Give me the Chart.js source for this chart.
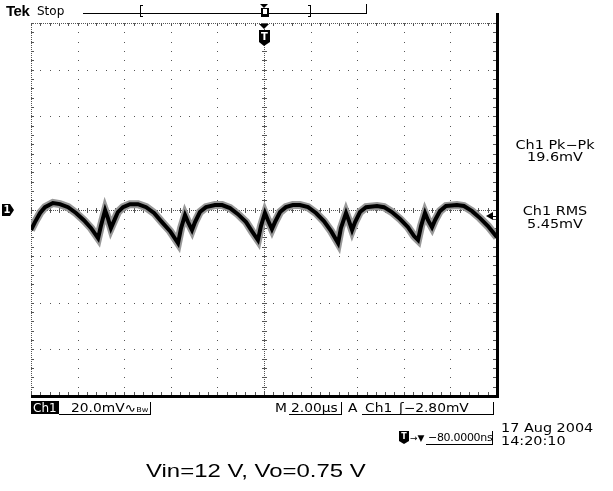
<!DOCTYPE html>
<html>
<head>
<meta charset="utf-8">
<script src="https://cdn.jsdelivr.net/npm/chart.js@4"></script>
<style>
  body { margin: 0; background: #fff; }
  #wrap { position: relative; width: 613px; height: 491px; overflow: hidden; }
  #scope { position: absolute; left: 0; top: 0; }
  .t { position: absolute; font-family: "DejaVu Sans"; font-size: 12px; line-height: 12px; color: #000;
       white-space: nowrap; transform-origin: 0 0; transform: scaleX(1.15); }
  .r { left: 495px; width: 120px; text-align: center; transform-origin: 50% 0; transform: scaleX(1.2); }
  .inv { background: #000; color: #fff; padding: 1px 2px 0 2px; transform: none; }
  .cap { position: absolute; font-family: "Liberation Sans"; font-size: 18px; line-height: 18px;
         white-space: nowrap; transform-origin: 0 0; transform: scaleX(1.33); }
</style>
</head>
<body>
<div id="wrap">
  <canvas id="scope" width="613" height="491"></canvas>

  <div class="t" style="left:6px;top:3px;font-family:'Liberation Sans';font-weight:bold;font-size:15px;line-height:15px;letter-spacing:-0.5px;transform:none">Tek</div>
  <div class="t" style="left:37px;top:5px;transform:none">Stop</div>

  <div class="t r" style="top:139px">Ch1 Pk−Pk</div>
  <div class="t r" style="top:151px">19.6mV</div>
  <div class="t r" style="top:205px">Ch1 RMS</div>
  <div class="t r" style="top:218px">5.45mV</div>

  <div class="t inv" style="left:31px;top:401px">Ch1</div>
  <div class="t" style="left:71px;top:402px">20.0mV∿<span style="font-size:7px">Bw</span></div>
  <div class="t" style="left:275px;top:402px">M</div>
  <div class="t" style="left:291px;top:402px">2.00µs</div>
  <div class="t" style="left:348px;top:402px">A</div>
  <div class="t" style="left:365px;top:402px">Ch1</div>
  <div class="t" style="left:399px;top:402px">ʃ−2.80mV</div>

  <div class="t" style="left:410px;top:432px;font-size:9px;transform:none">→▼</div>
  <div class="t" style="left:428px;top:432px;font-size:11px;letter-spacing:-0.3px;transform:none">−80.0000ns</div>
  <div class="t" style="left:501px;top:422px;transform:scaleX(1.2)">17 Aug 2004</div>
  <div class="t" style="left:501px;top:435px;transform:scaleX(1.2)">14:20:10</div>

  <div class="cap" style="left:146px;top:462px">Vin=12 V, Vo=0.75 V</div>
</div>

<script>
// Ch1 trace (time in µs from trigger, volts in mV)
const timeUs = [-10.00, -9.83, -9.61, -9.40, -9.06, -8.76, -8.41, -8.07, -7.73, -7.42, -7.12,
  -7.00, -6.82, -6.70, -6.57, -6.44, -6.27, -6.05, -5.75, -5.41, -5.06, -4.72, -4.38, -4.03, -3.69,
  -3.56, -3.39, -3.26, -3.09, -2.96, -2.75, -2.49, -2.10, -1.80, -1.46, -1.12, -0.77, -0.52, -0.26,
  -0.13, 0.04, 0.17, 0.34, 0.47, 0.69, 0.94, 1.24, 1.54, 1.89, 2.23, 2.57, 2.88, 3.18,
  3.30, 3.52, 3.65, 3.78, 3.91, 4.12, 4.38, 4.85, 5.15, 5.49, 5.84, 6.18, 6.44, 6.61,
  6.74, 6.91, 7.04, 7.21, 7.34, 7.55, 7.81, 8.28, 8.58, 8.93, 9.27, 9.61, 10.00];

const ch1mV = [-8.8, -5.4, -1.5, 1.0, 2.8, 2.3, 1.0, -1.5, -4.6, -8.0, -12.3,
  -7.1, -0.3, -3.7, -8.0, -5.0, -1.1, 1.0, 2.3, 2.3, 1.0, -1.5, -5.4, -9.3, -14.4,
  -8.0, -2.4, -5.4, -8.8, -5.4, -1.1, 1.0, 1.9, 1.9, 0.6, -2.0, -5.4, -9.3, -13.1,
  -7.1, -1.5, -4.6, -8.4, -5.4, -1.1, 1.0, 1.9, 1.9, 1.0, -1.5, -5.0, -9.3, -14.4,
  -8.0, -1.5, -5.0, -8.8, -5.4, -1.1, 1.0, 1.5, 1.0, -1.1, -4.1, -7.6, -11.4, -13.1,
  -7.1, -1.5, -4.6, -7.6, -4.6, -0.7, 1.5, 1.9, 1.5, -0.7, -3.7, -7.1, -11.9];

// graticule: 2 µs/div, 20 mV/div
const xDivs = [-10, -8, -6, -4, -2, 0, 2, 4, 6, 8, 10];
const yDivs = [-80, -60, -40, -20, 0, 20, 40, 60, 80];
const triggerLevel = -2.8;

const points = timeUs.map((t, i) => ({ x: t, y: ch1mV[i] }));

const scopePlugin = {
  id: 'scope',
  beforeDatasetsDraw(chart) {
    const { ctx, chartArea: a, scales: { x, y } } = chart;
    const xs = xDivs.map(v => Math.round(x.getPixelForValue(v)));
    const ys = yDivs.map(v => Math.round(y.getPixelForValue(v)));
    const mx = (x.getPixelForValue(xDivs[1]) - x.getPixelForValue(xDivs[0])) / 5;
    const my = (y.getPixelForValue(yDivs[0]) - y.getPixelForValue(yDivs[1])) / 5;
    ctx.save();
    ctx.fillStyle = '#555';
    // dotted division lines
    for (let i = 1; i < xs.length - 1; i++) {
      if (i === 5) continue;
      for (let k = 0; k <= 40; k++) ctx.fillRect(xs[i], Math.round(a.top + k * my), 1, 1);
    }
    for (let j = 1; j < ys.length - 1; j++) {
      if (j === 4) continue;
      for (let k = 0; k <= 50; k++) ctx.fillRect(Math.round(a.left + k * mx), ys[j], 1, 1);
    }
    // centre lines with minor ticks
    const cx = xs[5], cy = ys[4];
    for (let p = a.top; p <= a.bottom; p += 2) ctx.fillRect(cx, p, 1, 1);
    for (let p = a.left; p <= a.right; p += 2) ctx.fillRect(p, cy, 1, 1);
    for (let k = 0; k <= 40; k++) ctx.fillRect(cx - 2, Math.round(a.top + k * my), 5, 1);
    for (let k = 0; k <= 50; k++) ctx.fillRect(Math.round(a.left + k * mx), cy - 2, 1, 5);
    // top and left edges
    for (let p = a.left; p <= a.right; p += 2) ctx.fillRect(p, a.top, 1, 1);
    for (let p = a.top; p <= a.bottom; p += 2) ctx.fillRect(a.left, p, 1, 1);
    for (let k = 0; k <= 50; k++) ctx.fillRect(Math.round(a.left + k * mx), a.top, 1, 3);
    for (let k = 0; k <= 40; k++) ctx.fillRect(a.left, Math.round(a.top + k * my), 3, 1);
    // ticks on bottom and right edges
    for (let k = 0; k <= 50; k++) ctx.fillRect(Math.round(a.left + k * mx), a.bottom - 4, 1, 3);
    for (let k = 0; k <= 40; k++) ctx.fillRect(a.right - 4, Math.round(a.top + k * my), 3, 1);
    ctx.restore();
  },
  afterDatasetsDraw(chart) {
    const { ctx, chartArea: a, scales: { x, y } } = chart;
    ctx.save();
    ctx.fillStyle = '#000';
    // thick screen border bottom / right
    ctx.fillRect(a.left, a.bottom - 1, a.right - a.left + 2, 3);
    ctx.fillRect(a.right - 1, 13, 3, a.bottom - 11);

    // record bar with bracket
    ctx.fillRect(83, 13, 284, 1);
    ctx.fillRect(366, 4, 1, 10);
    ctx.fillRect(140, 5, 1, 12); ctx.fillRect(140, 5, 3, 1); ctx.fillRect(140, 16, 3, 1);
    ctx.fillRect(310, 5, 1, 12); ctx.fillRect(308, 5, 3, 1); ctx.fillRect(308, 16, 3, 1);

    const tx = Math.round(x.getPixelForValue(0));
    // trigger position on record bar
    ctx.beginPath(); ctx.moveTo(tx - 4, 4); ctx.lineTo(tx + 4, 4); ctx.lineTo(tx, 8); ctx.fill();
    ctx.fillRect(tx - 3, 8, 8, 9);
    ctx.fillStyle = '#fff'; ctx.fillRect(tx - 1, 9, 4, 5); ctx.fillStyle = '#000';
    // trigger point marker
    ctx.beginPath(); ctx.moveTo(tx - 5, a.top + 1); ctx.lineTo(tx + 5, a.top + 1); ctx.lineTo(tx, a.top + 6); ctx.fill();
    ctx.beginPath();
    ctx.moveTo(tx - 5, 30); ctx.lineTo(tx + 6, 30); ctx.lineTo(tx + 6, 42); ctx.lineTo(tx, 46); ctx.lineTo(tx - 5, 42);
    ctx.fill();
    ctx.fillStyle = '#fff';
    ctx.font = 'bold 10px "DejaVu Sans"'; ctx.textAlign = 'center'; ctx.textBaseline = 'middle';
    ctx.fillText('T', tx + 0.5, 37);
    ctx.fillStyle = '#000';

    // channel 1 ground marker
    const gy = Math.round(y.getPixelForValue(0));
    ctx.beginPath();
    ctx.moveTo(2, gy - 6); ctx.lineTo(10, gy - 6); ctx.lineTo(14, gy); ctx.lineTo(10, gy + 6); ctx.lineTo(2, gy + 6);
    ctx.fill();
    ctx.fillStyle = '#fff'; ctx.fillText('1', 7, gy + 0.5); ctx.fillStyle = '#000';

    // trigger level arrow
    const ly = Math.round(y.getPixelForValue(triggerLevel));
    ctx.beginPath(); ctx.moveTo(486, ly); ctx.lineTo(493, ly - 4); ctx.lineTo(493, ly + 4); ctx.fill();
    ctx.fillRect(493, ly, 4, 1);

    // readout underlines
    ctx.fillRect(59, 414, 92, 1); ctx.fillRect(150, 402, 1, 13);
    ctx.fillRect(289, 414, 53, 1); ctx.fillRect(341, 402, 1, 13);
    ctx.fillRect(362, 414, 132, 1); ctx.fillRect(493, 402, 1, 13);
    ctx.fillRect(426, 444, 67, 1); ctx.fillRect(492, 431, 1, 14);

    // trigger icon in delay readout
    ctx.beginPath();
    ctx.moveTo(399, 431); ctx.lineTo(409, 431); ctx.lineTo(409, 441); ctx.lineTo(404, 444); ctx.lineTo(399, 441);
    ctx.fill();
    ctx.fillStyle = '#fff'; ctx.font = 'bold 8px "DejaVu Sans"'; ctx.fillText('T', 404, 436.5);
    ctx.restore();
  }
};

new Chart(document.getElementById('scope'), {
  type: 'line',
  data: {
    datasets: [{
      data: points,
      borderColor: '#000',
      borderWidth: 4,
      pointRadius: 0,
      tension: 0,
      order: 1
    }, {
      data: points,
      borderColor: '#999',
      borderWidth: 8,
      pointRadius: 0,
      tension: 0,
      order: 2
    }]
  },
  options: {
    responsive: false,
    animation: false,
    devicePixelRatio: 1,
    layout: { padding: { left: 31, top: 23, right: 116, bottom: 95 } },
    scales: {
      x: { type: 'linear', min: -10, max: 10, display: false },
      y: { type: 'linear', min: -80, max: 80, display: false }
    },
    plugins: { legend: { display: false }, tooltip: { enabled: false } }
  },
  plugins: [scopePlugin]
});
</script>
</body>
</html>
